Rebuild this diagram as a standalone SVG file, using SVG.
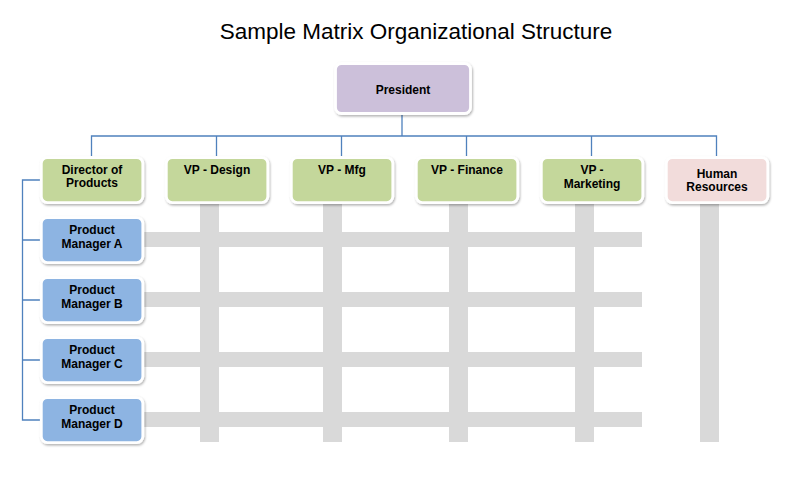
<svg xmlns="http://www.w3.org/2000/svg" width="791" height="487" viewBox="0 0 791 487">
<style>
.title{font-family:"Liberation Sans",Arial,sans-serif;font-size:22.5px;fill:#000}
.lbl{font-family:"Liberation Sans",Arial,sans-serif;font-size:12px;font-weight:bold;fill:#000;text-anchor:middle}
.box{stroke:#fff;stroke-width:2.8;filter:url(#sh)}
.pres{fill:#CCC0DA}
.vp{fill:#C4D79B}
.pm{fill:#8DB4E2}
.hr{fill:#F2DCDB}
.bar{fill:#D9D9D9}
.conn{stroke:#4F81BD;stroke-width:1.3;fill:none}
</style>
<defs>
<filter id="sh" x="-20%" y="-20%" width="140%" height="150%">
<feDropShadow dx="1" dy="1.5" stdDeviation="1.2" flood-color="#000" flood-opacity="0.3"/>
</filter>
</defs>
<rect width="791" height="487" fill="#fff"/>
<text class="title" x="416" y="38.5" text-anchor="middle">Sample Matrix Organizational Structure</text>

<g id="matrix">
<rect class="bar" x="143" y="232" width="499" height="15"/>
<rect class="bar" x="143" y="292" width="499" height="15"/>
<rect class="bar" x="143" y="352" width="499" height="15"/>
<rect class="bar" x="143" y="412" width="499" height="15"/>
<rect class="bar" x="200" y="204" width="19" height="238"/>
<rect class="bar" x="323" y="204" width="19" height="238"/>
<rect class="bar" x="449" y="204" width="19" height="238"/>
<rect class="bar" x="575" y="204" width="19" height="238"/>
<rect class="bar" x="700" y="204" width="19" height="238"/>
</g>

<g id="connectors">
<path class="conn" d="M402 114 V136 M91.5 156 V136 H716.5 V156 M216.5 136 V156 M341.5 136 V156 M466.5 136 V156 M591.5 136 V156"/>
<path class="conn" d="M41 180 H22.5 V420 H41 M22.5 240 H41 M22.5 300 H41 M22.5 360 H41"/>
</g>

<g id="president">
<rect class="box pres" x="335.5" y="63.5" width="135" height="50" rx="6"/>
<text class="lbl" x="403" y="94">President</text>
</g>
<g id="director">
<rect class="box vp" x="41.3" y="157.6" width="101.5" height="45" rx="6"/>
<text class="lbl" x="92" y="173.5">Director of</text>
<text class="lbl" x="92" y="187">Products</text>
</g>
<g id="vp-design">
<rect class="box vp" x="166.3" y="157.6" width="101.5" height="45" rx="6"/>
<text class="lbl" x="217" y="174">VP - Design</text>
</g>
<g id="vp-mfg">
<rect class="box vp" x="291.3" y="157.6" width="101.5" height="45" rx="6"/>
<text class="lbl" x="342" y="174">VP - Mfg</text>
</g>
<g id="vp-finance">
<rect class="box vp" x="416.3" y="157.6" width="101.5" height="45" rx="6"/>
<text class="lbl" x="467" y="174">VP - Finance</text>
</g>
<g id="vp-marketing">
<rect class="box vp" x="541.3" y="157.6" width="101.5" height="45" rx="6"/>
<text class="lbl" x="592" y="174">VP -</text>
<text class="lbl" x="592" y="187.5">Marketing</text>
</g>
<g id="hr">
<rect class="box hr" x="666.3" y="157.6" width="101.5" height="45" rx="6"/>
<text class="lbl" x="717" y="177.5">Human</text>
<text class="lbl" x="717" y="191">Resources</text>
</g>
<g id="pm-a">
<rect class="box pm" x="41.3" y="217.6" width="101.5" height="45" rx="6"/>
<text class="lbl" x="92" y="233.5">Product</text>
<text class="lbl" x="92" y="247.5">Manager A</text>
</g>
<g id="pm-b">
<rect class="box pm" x="41.3" y="277.6" width="101.5" height="45" rx="6"/>
<text class="lbl" x="92" y="293.5">Product</text>
<text class="lbl" x="92" y="307.5">Manager B</text>
</g>
<g id="pm-c">
<rect class="box pm" x="41.3" y="337.6" width="101.5" height="45" rx="6"/>
<text class="lbl" x="92" y="353.5">Product</text>
<text class="lbl" x="92" y="367.5">Manager C</text>
</g>
<g id="pm-d">
<rect class="box pm" x="41.3" y="397.6" width="101.5" height="45" rx="6"/>
<text class="lbl" x="92" y="413.5">Product</text>
<text class="lbl" x="92" y="427.5">Manager D</text>
</g>
</svg>
